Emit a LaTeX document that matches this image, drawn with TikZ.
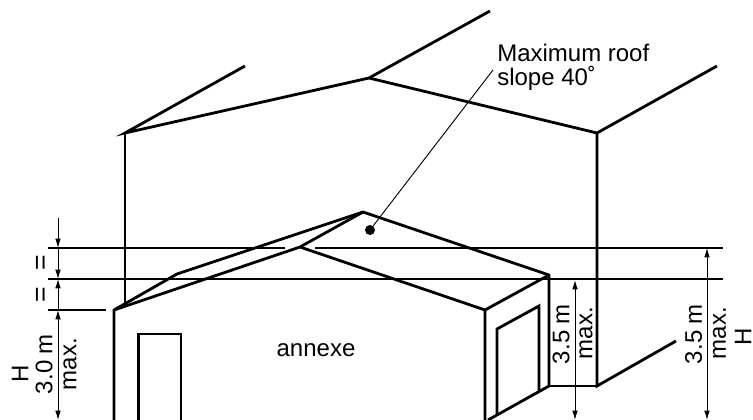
\documentclass[tikz,border=0pt]{standalone}
\usepackage{fontspec}
\setmainfont{Liberation Sans}
\usetikzlibrary{arrows.meta}
\tikzset{
 wall/.style={line width=2.1pt,line join=miter,line cap=butt},
 thin line/.style={line width=0.95pt},
 leader/.style={line width=0.7pt},
 dim/.style={line width=0.75pt,{Latex[length=7pt,width=4.2pt]}-{Latex[length=7pt,width=4.2pt]}},
 dimend/.style={line width=0.75pt,-{Latex[length=7pt,width=4.2pt]}},
 lbl/.style={inner sep=0pt,font=\fontsize{18pt}{18pt}\selectfont},
 vlbl/.style={lbl,rotate=90},
 eqlbl/.style={inner sep=0pt,rotate=90,font=\fontsize{20pt}{20pt}\selectfont},
}
\begin{document}
\begin{tikzpicture}[x=0.75pt,y=-0.75pt]
\useasboundingbox (0,0) rectangle (753,420);
% main building points
\coordinate (mA) at (125,133);
\coordinate (mA2) at (245,66);
\coordinate (mAb) at (125,304);
\coordinate (mB) at (369,78);
\coordinate (mB2) at (490,11);
\coordinate (mC) at (597,133);
\coordinate (mC2) at (717,66);
\coordinate (mD) at (597,386);
\coordinate (mD2) at (676,341);
% annexe points
\coordinate (aL) at (114,310);
\coordinate (aLb) at (114,420);
\coordinate (aK) at (177,274);
\coordinate (aT) at (363,212);
\coordinate (aV) at (300,247);
\coordinate (aF) at (485,310);
\coordinate (aFb) at (485,420);
\coordinate (aR) at (549,275);
\coordinate (aRb) at (549,386);
\coordinate (aQ) at (488,420);
% main
\draw[wall] (mA2) -- (mA) -- (mB) -- (mB2);
\draw[wall] (mAb) -- (mA);
\draw[wall] (mB) -- (mC) -- (mC2);
\draw[wall] (mC) -- (mD) -- (mD2);
\draw[wall] (aRb) -- (mD);
% annexe
\draw[wall] (aLb) -- (aL) -- (aK) -- (aT) -- (aR) -- (aRb) -- (aQ);
\draw[wall] (aL) -- (aV) -- (aT);
\draw[wall] (aV) -- (aF) -- (aFb);
\draw[wall] (aF) -- (aR);
% doors
\coordinate (d1) at (138.5,420); \coordinate (d2) at (138.5,334);
\coordinate (d3) at (181,334); \coordinate (d4) at (181,420);
\draw[wall] (d1) -- (d2) -- (d3) -- (d4);
\coordinate (e1) at (497,415); \coordinate (e2) at (497,329);
\coordinate (e3) at (539,306); \coordinate (e4) at (539,391);
\draw[wall] (e1) -- (e2) -- (e3) -- (e4);
% level lines
\coordinate (h1a) at (48,248); \coordinate (h1b) at (285,248);
\coordinate (h1c) at (315,248); \coordinate (h1d) at (723,248);
\coordinate (h2a) at (48,279); \coordinate (h2b) at (723,279);
\coordinate (h3a) at (48,310); \coordinate (h3b) at (106,310);
\draw[thin line] (h1a) -- (h1b);
\draw[thin line] (h1c) -- (h1d);
\draw[thin line] (h2a) -- (h2b);
\draw[thin line] (h3a) -- (h3b);
% dimensions
\coordinate (t0) at (58,218); \coordinate (t1) at (58,248);
\coordinate (t2) at (58,279); \coordinate (t3) at (58,310); \coordinate (t4) at (58,420);
\draw[dimend] (t0) -- (t1);
\draw[dimend] (t1) -- (t2);
\draw[dimend] (t3) -- (t2);
\draw[dim] (t3) -- (t4);
\coordinate (u1) at (575,280); \coordinate (u2) at (575,420);
\draw[dim] (u1) -- (u2);
\coordinate (w1) at (707,248); \coordinate (w2) at (707,420);
\draw[dim] (w1) -- (w2);
% labels
\node[lbl,anchor=north west,align=left] (roof) at (497,44) {Maximum roof\\slope 40˚};
\node[lbl] (ann) at (316,350) {annexe};
\node[eqlbl] (eq1) at (43,262.5) {=};
\node[eqlbl] (eq2) at (43,295) {=};
\node[vlbl] (h1) at (20,374) {H};
\node[vlbl] (m30) at (44,364) {3.0 m};
\node[vlbl] (mx1) at (70,364) {max.};
\node[vlbl] (m35) at (561,334) {3.5 m};
\node[vlbl] (mx2) at (586,333) {max.};
\node[vlbl] (m36) at (693.5,334) {3.5 m};
\node[vlbl] (mx3) at (719.5,333) {max.};
\node[vlbl] (h2) at (743,337) {H};
% leader
\coordinate (lead) at (493,70);
\node[circle,fill=black,inner sep=0pt,minimum size=7.5pt] (dot) at (370,230) {};
\draw[leader] (lead) -- (dot);
\end{tikzpicture}
\end{document}
